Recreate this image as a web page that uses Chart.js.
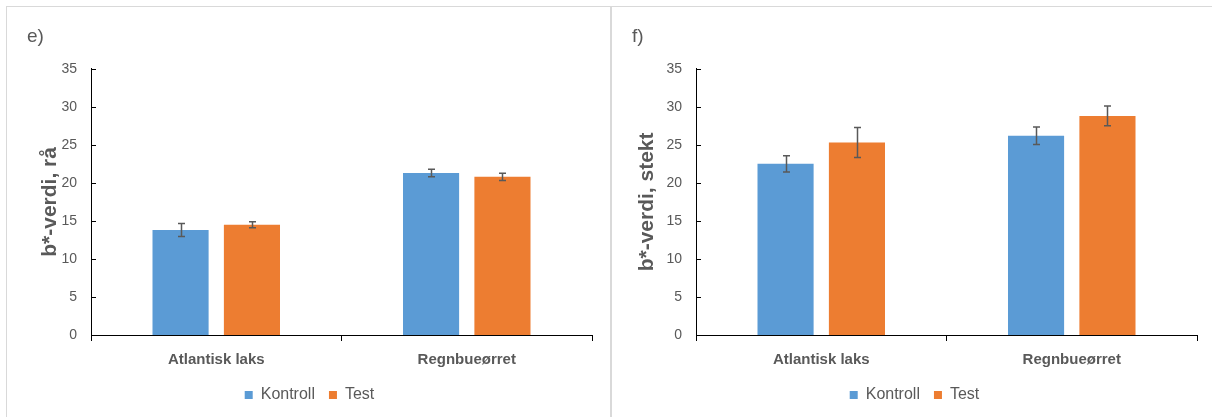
<!DOCTYPE html>
<html>
<head>
<meta charset="utf-8">
<script src="https://cdn.jsdelivr.net/npm/chart.js@4/dist/chart.umd.min.js"></script>
<style>
    html, body {
        margin: 0;
        padding: 0;
        background: #fff;
        overflow: hidden;
        width: 1212px;
        height: 417px;
    }
    .panel {
        position: absolute;
        top: 6px;
        width: 605px;
        height: 420px;
        box-sizing: border-box;
        border: 1px solid #d9d9d9;
        background: #fff;
    }
    .panel canvas {
        display: block;
    }
</style>
</head>
<body>
<div class="panel" style="left: 6px;"><canvas id="rawChart" width="603" height="410"></canvas></div>
<div class="panel" style="left: 611px;"><canvas id="friedChart" width="603" height="410"></canvas></div>

<script>
const categories = ['Atlantisk laks', 'Regnbueørret'];
const seriesNames = ['Kontroll', 'Test'];
const yTicks = [0, 5, 10, 15, 20, 25, 30, 35];

// e) b*-verdi, rå
const rawKontroll = [13.8, 21.3];
const rawKontrollErr = [0.85, 0.5];
const rawTest = [14.5, 20.8];
const rawTestErr = [0.4, 0.48];

// f) b*-verdi, stekt
const friedKontroll = [22.5, 26.2];
const friedKontrollErr = [1.07, 1.16];
const friedTest = [25.3, 28.8];
const friedTestErr = [1.97, 1.3];

const colors = ['#5b9bd5', '#ed7d31'];
const textColor = '#595959';
const fontFamily = '"Liberation Sans", Arial, sans-serif';

// error bars drawn from dataset.errors through the y scale
const errorBarPlugin = {
    id: 'errorBars',
    afterDatasetsDraw(chart) {
        const ctx = chart.ctx;
        const yScale = chart.scales.y;
        ctx.save();
        ctx.strokeStyle = '#595959';
        ctx.lineWidth = 1.5;
        chart.data.datasets.forEach(function (ds, i) {
            const meta = chart.getDatasetMeta(i);
            meta.data.forEach(function (bar, j) {
                const err = ds.errors[j];
                const x = Math.round(bar.x) + 0.5;
                const top = yScale.getPixelForValue(ds.data[j] + err);
                const bottom = yScale.getPixelForValue(ds.data[j] - err);
                ctx.beginPath();
                ctx.moveTo(x, top);
                ctx.lineTo(x, bottom);
                ctx.moveTo(x - 3.5, top);
                ctx.lineTo(x + 3.5, top);
                ctx.moveTo(x - 3.5, bottom);
                ctx.lineTo(x + 3.5, bottom);
                ctx.stroke();
            });
        });
        ctx.restore();
    }
};

// small tick marks on the inside of the value axis
const innerTicksPlugin = {
    id: 'innerTicks',
    afterDraw(chart) {
        const ctx = chart.ctx;
        const yScale = chart.scales.y;
        const left = chart.chartArea.left;
        ctx.save();
        ctx.strokeStyle = '#000';
        ctx.lineWidth = 1;
        yScale.ticks.forEach(function (tick) {
            const y = Math.round(yScale.getPixelForValue(tick.value)) + 0.5;
            ctx.beginPath();
            ctx.moveTo(left, y);
            ctx.lineTo(left + 5, y);
            ctx.stroke();
        });
        ctx.restore();
    }
};

function buildChart(canvasId, panelLabel, axisTitle, titlePad, kontroll, kontrollErr, test, testErr) {
    return new Chart(document.getElementById(canvasId), {
        type: 'bar',
        data: {
            labels: categories,
            datasets: [{
                label: seriesNames[0],
                data: kontroll,
                errors: kontrollErr,
                backgroundColor: colors[0],
                borderWidth: 0
            }, {
                label: seriesNames[1],
                data: test,
                errors: testErr,
                backgroundColor: colors[1],
                borderWidth: 0
            }]
        },
        options: {
            responsive: false,
            animation: false,
            devicePixelRatio: 1,
            categoryPercentage: 0.57,
            barPercentage: 0.786,
            layout: {
                padding: { left: 20, right: 18, top: 0, bottom: 4 }
            },
            plugins: {
                tooltip: { enabled: false },
                title: {
                    display: true,
                    text: panelLabel,
                    align: 'start',
                    color: textColor,
                    font: { family: fontFamily, size: 19, weight: 'normal' },
                    padding: { top: 18, bottom: 21 }
                },
                legend: {
                    position: 'bottom',
                    labels: {
                        boxWidth: 8,
                        boxHeight: 8,
                        padding: 14,
                        color: textColor,
                        font: { family: fontFamily, size: 16 }
                    }
                }
            },
            scales: {
                x: {
                    grid: {
                        display: true,
                        drawOnChartArea: false,
                        drawTicks: true,
                        tickLength: 6,
                        color: '#000'
                    },
                    border: { display: true, color: '#000', width: 1 },
                    ticks: {
                        padding: 9.5,
                        color: textColor,
                        font: { family: fontFamily, size: 15, weight: 'bold' }
                    },
                    afterFit: function (scale) {
                        scale.height = 38;
                    }
                },
                y: {
                    min: 0,
                    max: 35,
                    afterBuildTicks: function (scale) {
                        scale.ticks = yTicks.map(function (v) {
                            return { value: v };
                        });
                    },
                    grid: { display: false, drawTicks: false },
                    border: { display: true, color: '#000', width: 1 },
                    ticks: {
                        padding: 14,
                        color: textColor,
                        font: { family: fontFamily, size: 14 }
                    },
                    title: {
                        display: true,
                        text: axisTitle,
                        color: textColor,
                        font: { family: fontFamily, size: 21, weight: 'bold' },
                        padding: { top: titlePad, bottom: 0 }
                    },
                    afterFit: function (scale) {
                        scale.width = 64;
                    }
                }
            }
        },
        plugins: [errorBarPlugin, innerTicksPlugin]
    });
}

buildChart('rawChart', 'e)', 'b*-verdi, rå', 10.7, rawKontroll, rawKontrollErr, rawTest, rawTestErr);
buildChart('friedChart', 'f)', 'b*-verdi, stekt', 2.7, friedKontroll, friedKontrollErr, friedTest, friedTestErr);
</script>
</body>
</html>
